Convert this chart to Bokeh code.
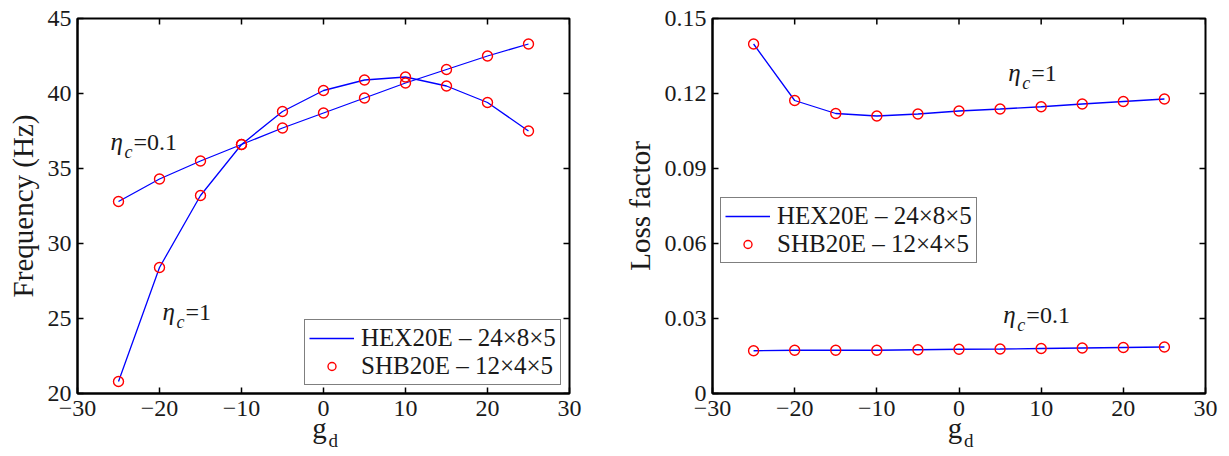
import math
from bokeh.plotting import figure
from bokeh.layouts import row, column
from bokeh.models import (FixedTicker, CustomJSTickFormatter, Label,
                          Legend, LegendItem, Range1d)
from bokeh.embed import file_html
from bokeh.resources import INLINE

# ---- data ----
gd = [-25, -20, -15, -10, -5, 0, 5, 10, 15, 20, 25]
freq_eta01 = [32.8, 34.3, 35.5, 36.6, 37.7, 38.7, 39.7, 40.7, 41.6, 42.5, 43.3]
freq_eta1 = [20.8, 28.4, 33.2, 36.6, 38.8, 40.2, 40.9, 41.1, 40.5, 39.4, 37.5]
loss_eta1 = [0.1398, 0.1172, 0.1120, 0.1110, 0.1118, 0.1130, 0.1138, 0.1147, 0.1158, 0.1168, 0.1178]
loss_eta01 = [0.0171, 0.0173, 0.0173, 0.0173, 0.0175, 0.0177, 0.0178, 0.0180, 0.0182, 0.0184, 0.0186]
x_ticks = [-30, -20, -10, 0, 10, 20, 30]
freq_ticks = [20, 25, 30, 35, 40, 45]
loss_ticks = [0, 0.03, 0.06, 0.09, 0.12, 0.15]
legend_labels = ["HEX20E \u2013 24\u00d78\u00d75", "SHB20E \u2013 12\u00d74\u00d75"]

FONT = "Liberation Serif"
BLUE = "#0000ff"
RED = "#ff0000"
TXT = "#1a1a1a"

minus_fmt = CustomJSTickFormatter(code="return tick < 0 ? '\u2212' + Math.abs(tick) : String(tick);")
loss_fmt = CustomJSTickFormatter(code="return tick == 0 ? '0' : tick.toFixed(2);")

STRIP = 90  # height of the transparent strip that carries the x-axis titles


def style_axis(ax, ticks, fmt=None):
    ax.ticker = FixedTicker(ticks=ticks)
    if fmt is not None:
        ax.formatter = fmt
    ax.major_tick_in = 6
    ax.major_tick_out = 0
    ax.minor_tick_line_color = None
    ax.axis_line_width = 2
    ax.major_tick_line_width = 1.5
    ax.axis_line_color = "black"
    ax.major_tick_line_color = "black"
    ax.major_label_text_font = FONT
    ax.major_label_text_font_size = "24px"
    ax.major_label_text_color = TXT
    ax.axis_label_text_font = FONT
    ax.axis_label_text_font_size = "29px"
    ax.axis_label_text_font_style = "normal"
    ax.axis_label_text_color = TXT


def make_fig(width, left, right, xr, yr, yticks, yfmt, ylabel):
    p = figure(width=width, height=456, output_backend="svg", toolbar_location=None,
               x_range=Range1d(*xr), y_range=Range1d(*yr),
               min_border_left=left, min_border_right=right,
               min_border_top=18, min_border_bottom=63)
    p.grid.visible = False
    p.outline_line_color = "black"
    p.outline_line_width = 2
    p.background_fill_color = "white"
    p.border_fill_color = "white"
    style_axis(p.xaxis[0], x_ticks, minus_fmt)
    p.xaxis[0].major_label_standoff = 7
    style_axis(p.yaxis[0], yticks, yfmt)
    p.yaxis[0].major_label_standoff = 6
    p.yaxis[0].axis_label = ylabel
    p.yaxis[0].axis_label_standoff = 6
    # inward tick marks on the top and right edges (matlab box style)
    p.scatter(x_ticks, [yticks[-1]] * len(x_ticks), marker="dash", angle=math.pi / 2,
              size=12, line_color="black", line_width=1.5)
    p.scatter([x_ticks[-1]] * len(yticks), yticks, marker="dash",
              size=12, line_color="black", line_width=1.5)
    return p


def eta_label(p, x, y, rest):
    p.add_layout(Label(x=x, y=y, text="\u03b7", text_font=FONT, text_font_size="25px",
                       text_font_style="italic", text_color=TXT))
    p.add_layout(Label(x=x, y=y, x_offset=14, y_offset=-7, text="c", text_font=FONT,
                       text_font_size="18px", text_font_style="italic", text_color=TXT))
    p.add_layout(Label(x=x, y=y, x_offset=23, text=rest, text_font=FONT,
                       text_font_size="24px", text_color=TXT))


def gd_fig(width, left, right, x_range):
    # transparent strip laid over the bottom of the plot, carrying the x-axis title g_d
    q = figure(width=width, height=STRIP, output_backend="svg", toolbar_location=None,
               x_range=x_range, y_range=Range1d(0, STRIP),
               min_border_left=left - 40, min_border_right=right,
               min_border_top=0, min_border_bottom=0)
    q.x_range = Range1d(x_range.start - 40 * (x_range.end - x_range.start) / (width - left - right),
                        x_range.end)
    q.axis.visible = False
    q.grid.visible = False
    q.outline_line_color = None
    q.background_fill_color = None
    q.border_fill_color = None
    q.margin = (-STRIP, 0, 0, 0)
    q.add_layout(Label(x=0, y=13, x_offset=-4, text="g", text_font=FONT, text_font_size="29px",
                       text_color=TXT, text_align="center"))
    q.add_layout(Label(x=0, y=13, x_offset=5, y_offset=-7, text="d", text_font=FONT,
                       text_font_size="19px", text_color=TXT))
    return q


def add_series(p, y1, y2):
    l1 = p.line(gd, y1, line_color=BLUE, line_width=1.3)
    p.line(gd, y2, line_color=BLUE, line_width=1.3)
    c1 = p.scatter(gd, y1, marker="circle", size=10, fill_color=None, line_color=RED, line_width=1.4)
    p.scatter(gd, y2, marker="circle", size=10, fill_color=None, line_color=RED, line_width=1.4)
    return l1, c1


def add_legend(p, l1, c1, loc):
    leg = Legend(items=[LegendItem(label=legend_labels[0], renderers=[l1]),
                        LegendItem(label=legend_labels[1], renderers=[c1])],
                 location=loc)
    leg.label_text_font = FONT
    leg.label_text_font_size = "25px"
    leg.label_text_color = TXT
    leg.border_line_color = "black"
    leg.border_line_width = 1.5
    leg.background_fill_alpha = 1
    leg.glyph_width = 45
    leg.glyph_height = 20
    leg.label_height = 20
    leg.spacing = 0
    leg.padding = 4
    leg.margin = 0
    leg.label_standoff = 7
    p.add_layout(leg, "center")


# ---- left figure ----
p1 = make_fig(600, 77, 31, (-30, 30), (20, 45), freq_ticks, None, "Frequency (Hz)")
l1, c1 = add_series(p1, freq_eta01, freq_eta1)
eta_label(p1, -25.98, 35.9, "=0.1")
eta_label(p1, -19.63, 24.6, "=1")
add_legend(p1, l1, c1, (227, 8))
q1 = gd_fig(600, 77, 31, p1.x_range)

# ---- right figure ----
p2 = make_fig(629, 112, 24, (-30, 30), (0, 0.15), loss_ticks, loss_fmt, "Loss factor")
l2, c2 = add_series(p2, loss_eta1, loss_eta01)
eta_label(p2, 6.0, 0.1232, "=1")
eta_label(p2, 5.4, 0.0263, "=0.1")
add_legend(p2, l2, c2, (8, 130))
q2 = gd_fig(629, 112, 24, p2.x_range)

layout = column(row(p1, p2), row(q1, q2))
open("out.html", "w").write(file_html(layout, INLINE))
